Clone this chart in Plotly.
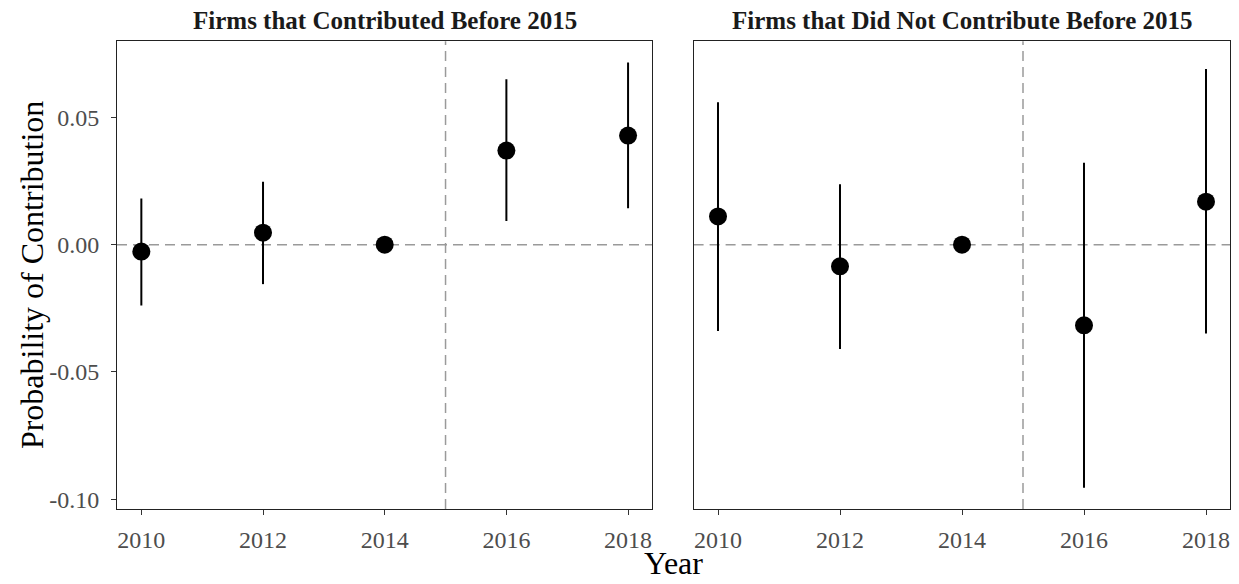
import plotly.graph_objects as go

# ---- data ----
years = [2010, 2012, 2014, 2016, 2018]

contrib_est = [-0.0027, 0.0047, 0.0, 0.0370, 0.0429]
contrib_lo = [-0.0239, -0.0155, 0.0, 0.0093, 0.0143]
contrib_hi = [0.0182, 0.0247, 0.0, 0.0650, 0.0716]

noncontrib_est = [0.0111, -0.0085, 0.0, -0.0317, 0.0169]
noncontrib_lo = [-0.0339, -0.0410, 0.0, -0.0955, -0.0349]
noncontrib_hi = [0.0560, 0.0238, 0.0, 0.0322, 0.0690]

panel_titles = ["Firms that Contributed Before 2015", "Firms that Did Not Contribute Before 2015"]
x_ticks = [2010, 2012, 2014, 2016, 2018]
y_ticks = [-0.10, -0.05, 0.00, 0.05]
y_tick_text = ["-0.10", "-0.05", "0.00", "0.05"]
ref_year = 2015
ref_value = 0.0

FONT = "Liberation Serif, Times New Roman, serif"

fig = go.Figure()

panels = [
    (contrib_est, contrib_lo, contrib_hi, "x", "y"),
    (noncontrib_est, noncontrib_lo, noncontrib_hi, "x2", "y2"),
]
for est, lo, hi, xa, ya in panels:
    plus = [h - e for h, e in zip(hi, est)]
    minus = [e - l for e, l in zip(est, lo)]
    fig.add_trace(go.Scatter(
        x=years, y=est, mode="markers", xaxis=xa, yaxis=ya,
        marker=dict(size=18, color="black"),
        error_y=dict(type="data", symmetric=False, array=plus, arrayminus=minus,
                     width=0, thickness=2, color="black"),
        showlegend=False, cliponaxis=False,
    ))

# reference lines
for xa, ya in [("x", "y"), ("x2", "y2")]:
    fig.add_shape(type="line", xref=f"{xa} domain", yref=ya, x0=0, x1=1,
                  y0=ref_value, y1=ref_value, layer="below",
                  line=dict(color="#9a9a9a", width=1.5, dash="10px,6px"))
    fig.add_shape(type="line", xref=xa, yref=f"{ya} domain", x0=ref_year, x1=ref_year,
                  y0=0, y1=1, layer="below",
                  line=dict(color="#9a9a9a", width=1.5, dash="10px,6px"))

# page body has an 8px margin -> figure is 8px smaller and offsets shifted
OFF = 8
W, H = 1239 - OFF, 584 - OFF


def px_x(v):
    return (v - OFF) / W


def px_y(v):
    return 1 - (v - OFF) / H


ydom = [px_y(511.7), px_y(41.3)]
xdom1 = [px_x(117), px_x(652.4)]
xdom2 = [px_x(693.6), px_x(1230.4)]
xr = [2009.6, 2018.4]
yr = [-0.1039, 0.0800]

xcommon = dict(range=xr, tickvals=x_ticks, ticks="outside", ticklen=5, tickcolor="#333333",
               tickwidth=1, showgrid=False, zeroline=False, showline=True, linecolor="#222222",
               linewidth=1, mirror=True, ticklabelstandoff=4,
               tickfont=dict(family=FONT, size=24, color="#4d4d4d"))
fig.update_layout(
    width=W, height=H,
    margin=dict(l=0, r=0, t=0, b=0),
    paper_bgcolor="white", plot_bgcolor="white",
    xaxis=dict(domain=xdom1, anchor="y", **xcommon),
    xaxis2=dict(domain=xdom2, anchor="y2", **xcommon),
    yaxis=dict(domain=ydom, anchor="x", range=yr, tickvals=y_ticks, ticktext=y_tick_text,
               ticks="outside", ticklen=5, tickcolor="#333333", tickwidth=1,
               showgrid=False, zeroline=False, showline=True, linecolor="#222222",
               linewidth=1, mirror=True, ticklabelstandoff=7,
               tickfont=dict(family=FONT, size=24, color="#4d4d4d")),
    yaxis2=dict(domain=ydom, anchor="x2", range=yr, showticklabels=False, ticks="",
                showgrid=False, zeroline=False, showline=True, linecolor="#222222",
                linewidth=1, mirror=True),
)

# panel titles
for title, dom in zip(panel_titles, [xdom1, xdom2]):
    fig.add_annotation(text=f"<b>{title}</b>", xref="paper", yref="paper",
                       x=(dom[0] + dom[1]) / 2, y=px_y(21), xanchor="center", yanchor="middle",
                       showarrow=False, borderpad=0,
                       font=dict(family=FONT, size=25, color="#1a1a1a"))

# axis titles
fig.add_annotation(text="Year", xref="paper", yref="paper",
                   x=(xdom1[0] + xdom2[1]) / 2, y=px_y(566), xanchor="center", yanchor="middle",
                   showarrow=False, borderpad=0, font=dict(family=FONT, size=32, color="black"))
fig.add_annotation(text="Probability of Contribution", xref="paper", yref="paper",
                   x=px_x(32), y=(ydom[0] + ydom[1]) / 2, xanchor="center", yanchor="middle",
                   textangle=-90, showarrow=False, font=dict(family=FONT, size=32, color="black"))

fig.write_html("out.html")
